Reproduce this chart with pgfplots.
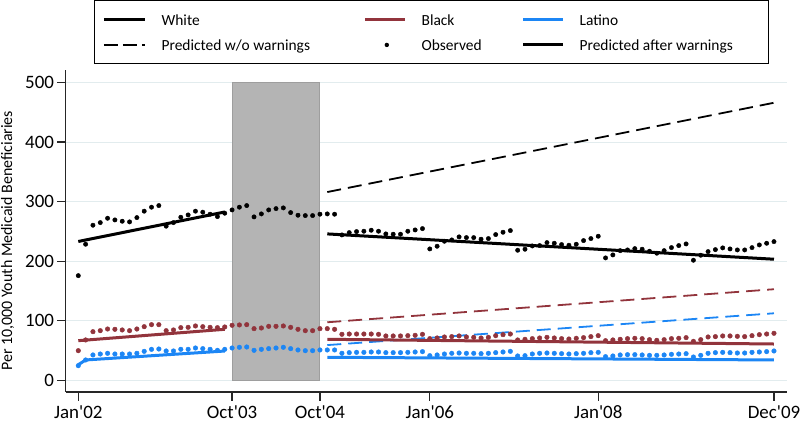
\documentclass[border=0pt]{standalone}
\usepackage{fontspec}
\setmainfont{Carlito}
\usepackage{pgfplots}
\usepackage{pgfplotstable}
\pgfplotsset{compat=1.18}
\definecolor{bcol}{RGB}{146,52,60}
\definecolor{lcol}{RGB}{28,134,245}
\definecolor{gridc}{RGB}{226,236,238}
\definecolor{shade}{RGB}{180,180,180}
\definecolor{shadeb}{RGB}{158,158,158}

\pgfplotstableread{
m white black latino
0 175.6 49.6 24.4
1 228.4 67.6 34.0
2 260.3 81.5 42.4
3 264.7 83.2 44.0
4 272.0 86.0 45.2
5 269.2 85.5 44.0
6 267.0 84.4 44.0
7 265.9 83.2 44.0
8 273.1 86.0 45.2
9 283.9 89.9 48.5
10 290.6 93.3 51.9
11 293.3 93.3 52.4
12 258.7 83.2 49.1
13 264.7 84.4 49.1
14 273.7 88.3 51.9
15 277.6 88.8 51.9
16 283.9 91.1 54.1
17 282.2 89.9 53.0
18 278.8 88.8 51.9
19 274.8 88.3 50.2
20 280.5 89.4 51.9
21 286.0 92.2 54.1
22 290.6 92.8 55.3
23 293.3 93.3 55.8
24 274.3 86.6 50.2
25 279.3 87.7 51.9
26 286.0 90.5 53.0
27 288.2 90.5 54.1
28 289.4 91.1 55.3
29 281.5 88.8 53.0
30 277.1 85.5 50.8
31 276.5 83.2 49.6
32 276.5 83.2 49.6
33 278.8 86.6 50.8
34 279.3 86.6 50.8
35 278.8 85.5 50.8
36 244.0 77.1 45.2
37 247.9 77.6 46.3
38 249.6 77.6 46.8
39 250.2 77.6 46.8
40 251.9 77.6 47.4
41 250.2 77.1 47.4
42 245.7 74.3 46.3
43 245.2 74.3 46.3
44 245.2 74.3 46.3
45 250.2 74.8 46.8
46 252.4 75.4 47.4
47 254.6 77.1 48.0
48 220.5 69.8 41.2
49 225.0 70.9 42.4
50 233.4 72.6 44.0
51 235.6 73.2 45.2
52 240.7 74.3 45.7
53 239.5 72.6 45.2
54 239.5 72.0 45.2
55 236.8 70.9 44.6
56 237.9 72.0 45.2
57 244.6 74.8 46.3
58 248.5 76.5 47.4
59 251.3 77.6 48.5
60 218.3 67.6 40.7
61 220.0 68.7 41.2
62 225.5 69.8 44.0
63 226.1 70.9 45.2
64 231.1 72.0 45.7
65 230.0 70.9 45.2
66 227.8 69.8 44.6
67 226.7 69.2 44.0
68 228.4 70.4 44.6
69 234.5 71.5 45.2
70 237.9 73.2 46.3
71 241.8 74.8 46.8
72 205.4 66.4 39.6
73 210.4 67.6 40.7
74 217.6 68.7 42.4
75 218.8 69.8 42.9
76 221.0 70.4 42.9
77 220.0 69.8 42.4
78 216.6 68.1 41.8
79 213.3 67.0 41.8
80 217.6 68.1 42.4
81 222.7 69.8 43.5
82 226.1 70.4 44.0
83 228.9 71.5 44.6
84 201.5 65.3 39.0
85 209.9 68.1 41.8
86 216.0 72.6 45.2
87 219.3 73.2 46.3
88 222.2 74.3 46.8
89 220.5 74.3 46.3
90 218.8 73.7 45.7
91 218.8 73.2 45.7
92 222.7 74.8 46.8
93 227.2 76.5 47.4
94 230.0 77.6 48.0
95 232.8 78.8 49.1
}\obs

\begin{document}
\begin{tikzpicture}
\begin{axis}[
  at={(0,0)}, anchor=south west,
  scale only axis, width=721.3bp, height=322bp,
  xmin=-1.72, xmax=96.78, ymin=-19.8, ymax=521,
  axis x line*=bottom, axis y line*=left,
  axis line style={-, line width=1.2bp, black!85},
  xtick={0,21,33,48,71,95},
  xticklabels={Jan\textquotesingle 02,Oct\textquotesingle 03,Oct\textquotesingle 04,Jan\textquotesingle 06,Jan\textquotesingle 08,Dec\textquotesingle 09},
  ytick={0,100,200,300,400,500},
  ymajorgrids, grid style={gridc, line width=1bp},
  tick style={line width=1.2bp, black!85},
  major tick length=8.5bp,
  tick align=outside,
  /pgf/number format/assume math mode=true,
  xticklabel style={font=\fontsize{19}{22}\selectfont, inner sep=0pt, yshift=-5bp},
  yticklabel style={font=\fontsize{19}{22}\selectfont, inner sep=0pt, xshift=-3bp},
  ylabel={Per 10,000 Youth Medicaid Beneficiaries},
  ylabel style={font=\fontsize{16}{19}\selectfont, at={(axis description cs:-0.0805,0.4696)}, anchor=center, inner sep=0pt},
  legend columns=3,
  legend cell align=left,
  legend style={at={(axis description cs:0.0392,1.2174)}, anchor=north west,
    draw=black, line width=1.3bp, inner xsep=7.7bp, inner ysep=8.6bp,
    column sep=0pt, row sep=5.7bp, font=\fontsize{15.5}{18}\selectfont,
    nodes={inner sep=0pt, text height=16bp, text depth=4bp}},
]
% shaded warning period
\addplot[fill=shade, draw=shadeb, line width=1bp, forget plot] coordinates {(21,0) (21,500) (33,500) (33,0)} -- cycle;

% pre-period fitted lines
\addplot[black, line width=3bp, forget plot] coordinates {(0,233) (20,282.5)};
\addplot[bcol, line width=3bp, forget plot] coordinates {(0,66.4) (20,85.5)};
\addplot[lcol, line width=3bp, forget plot] coordinates {(0,26) (1,34) (20,49)};

% predicted without warnings
\addplot[black, line width=1.8bp, dash pattern=on 14bp off 7bp, forget plot] coordinates {(34,316) (95,466)};
\addplot[bcol, line width=1.8bp, dash pattern=on 14bp off 7bp, forget plot] coordinates {(34,97.3) (95,152.8)};
\addplot[lcol, line width=1.8bp, dash pattern=on 14bp off 7bp, forget plot] coordinates {(34,59) (95,112.4)};

% predicted after warnings
\addplot[black, line width=3bp, forget plot] coordinates {(34,245.7) (95,203.2)};
\addplot[bcol, line width=3bp, forget plot] coordinates {(34,68.7) (95,60.8)};
\addplot[lcol, line width=3bp, forget plot] coordinates {(34,38.5) (95,34)};

% observed
\addplot[only marks, mark=*, mark size=2.2bp, black, forget plot] table[x=m, y=white] {\obs};
\addplot[only marks, mark=*, mark size=2.3bp, bcol, forget plot] table[x=m, y=black] {\obs};
\addplot[only marks, mark=*, mark size=2.3bp, lcol, forget plot] table[x=m, y=latino] {\obs};

% legend
\addlegendimage{legend image code/.code={\draw[black, line width=3bp] (0bp,0bp) -- (41.6bp,0bp);}}
\addlegendentry{\makebox[216.7bp][l]{\hspace{14.7bp}White}}
\addlegendimage{legend image code/.code={\draw[bcol, line width=3bp] (0bp,0bp) -- (40bp,0bp);}}
\addlegendentry{\makebox[115bp][l]{\hspace{15bp}Black}}
\addlegendimage{legend image code/.code={\draw[lcol, line width=3bp] (0bp,0bp) -- (40bp,0bp);}}
\addlegendentry{\makebox[196bp][l]{\hspace{15bp}Latino}}
\addlegendimage{legend image code/.code={\draw[black, line width=1.8bp, dash pattern=on 14bp off 5bp] (0bp,0bp) -- (41.6bp,0bp);}}
\addlegendentry{\makebox[216.7bp][l]{\hspace{14.7bp}Predicted w/o warnings}}
\addlegendimage{legend image code/.code={\path[draw=none] (0bp,0bp) -- (40bp,0bp); \fill[black, draw=none] (21.7bp,0bp) circle (2.2bp);}}
\addlegendentry{\makebox[115bp][l]{\hspace{15bp}Observed}}
\addlegendimage{legend image code/.code={\draw[black, line width=3bp] (0bp,0bp) -- (40bp,0bp);}}
\addlegendentry{\makebox[196bp][l]{\hspace{15bp}Predicted after warnings}}
\end{axis}
\pgfresetboundingbox
\path (-65.7bp,-31bp) rectangle (734.3bp,392bp);
\end{tikzpicture}
\end{document}
